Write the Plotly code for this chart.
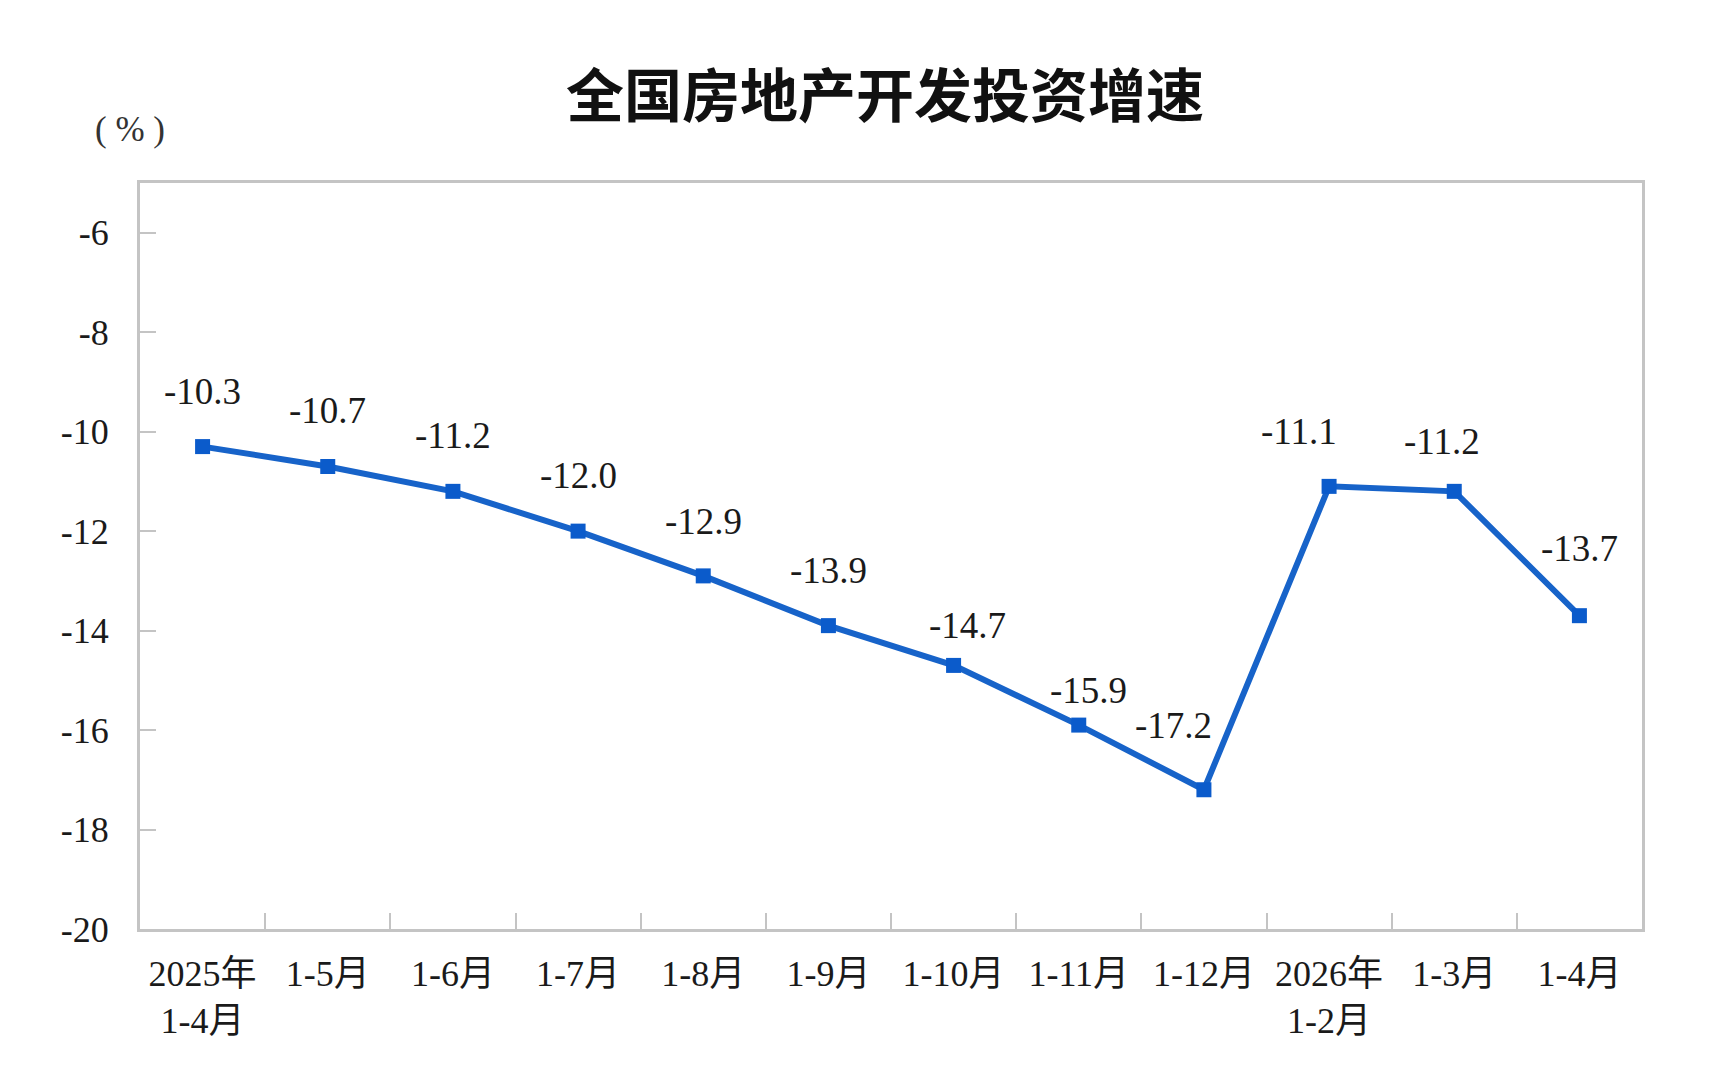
import plotly.graph_objects as go

categories = ["2025年<br>1-4月", "1-5月", "1-6月", "1-7月", "1-8月", "1-9月", "1-10月",
              "1-11月", "1-12月", "2026年<br>1-2月", "1-3月", "1-4月"]
growth = [-10.3, -10.7, -11.2, -12.0, -12.9, -13.9, -14.7, -15.9, -17.2, -11.1, -11.2, -13.7]
label_text = ["-10.3", "-10.7", "-11.2", "-12.0", "-12.9", "-13.9", "-14.7", "-15.9",
              "-17.2", "-11.1", "-11.2", "-13.7"]
# label offsets in pixels (style only)
label_dx = [0, 0, 0, 0, 0, 0, 14, 10, -30, -30, -12, 0]
label_dy = [55, 56, 56, 56, 54, 55, 40, 35, 64, 55, 50, 67]
y_ticks = [-6, -8, -10, -12, -14, -16, -18, -20]

LATIN = "Liberation Serif, Noto Sans CJK SC, serif"
BLUE = "#1763C9"
GREY = "#c4c4c4"

fig = go.Figure()
fig.add_trace(go.Scatter(
    x=categories, y=growth, mode="lines+markers",
    line=dict(color=BLUE, width=6),
    marker=dict(symbol="square", size=15, color="#0B5BCB"),
    hoverinfo="skip", showlegend=False,
))

for c, v, t, dx, dy in zip(categories, growth, label_text, label_dx, label_dy):
    fig.add_annotation(x=c, y=v, text=t, showarrow=False, xshift=dx, yshift=dy,
                       xanchor="center", yanchor="middle",
                       font=dict(family=LATIN, size=37, color="#1a1a1a"))

fig.add_annotation(xref="paper", yref="paper", x=-0.0067, y=1.072, text="( % )",
                   showarrow=False, xanchor="center", yanchor="middle",
                   font=dict(family=LATIN, size=35, color="#333333"))

fig.update_layout(
    width=1710, height=1080,
    paper_bgcolor="white", plot_bgcolor="white",
    margin=dict(l=132, r=76, t=175, b=159),
    title=dict(text="<b>全国房地产开发投资增速</b>", x=0.496, xref="paper", xanchor="center",
               y=1 - 89 / 1080, yanchor="middle", yref="container",
               font=dict(family="Noto Sans CJK SC", size=58, color="#111111")),
)

fig.update_xaxes(
    type="category", range=[-0.5, 11.5], showgrid=False,
    showline=True, linecolor=GREY, linewidth=3, mirror=True,
    ticks="inside", tickson="boundaries", ticklen=16, tickwidth=2, tickcolor=GREY,
    tickfont=dict(family=LATIN, size=36, color="#1a1a1a"),
    ticklabelstandoff=11,
)
fig.update_yaxes(
    range=[-20, -5], tickvals=y_ticks, ticktext=[str(v) for v in y_ticks],
    showgrid=False, zeroline=False,
    showline=True, linecolor=GREY, linewidth=3, mirror=True,
    ticks="inside", ticklen=16, tickwidth=2, tickcolor=GREY,
    tickfont=dict(family=LATIN, size=36, color="#1a1a1a"),
    ticklabelstandoff=21,
)

fig.write_html("out.html")
